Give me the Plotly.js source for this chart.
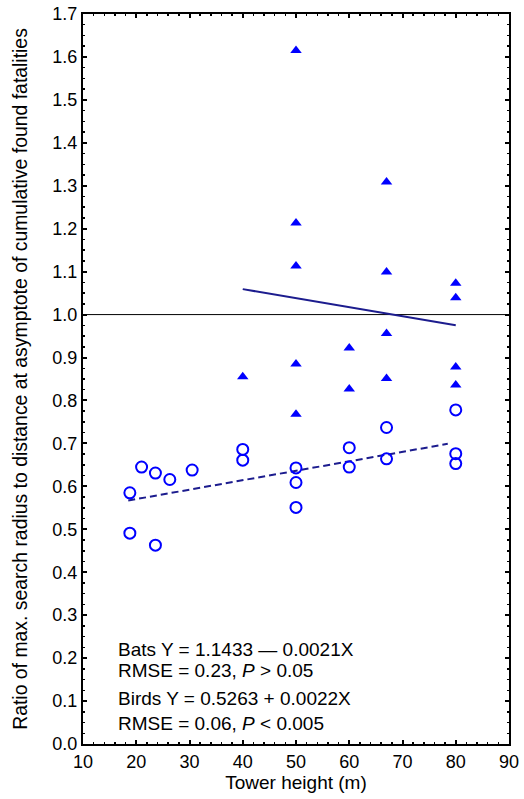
<!DOCTYPE html>
<html>
<head>
<meta charset="utf-8">
<script src="https://cdn.plot.ly/plotly-3.0.1.min.js"></script>
<style>html,body{margin:0;padding:0;background:#fff;}#chart{width:524px;height:799px;}</style>
</head>
<body>
<div id="chart"></div>
<script>
// Bats (filled triangles)
var batsX = [40, 50, 50, 50, 50, 50, 60, 60, 67, 67, 67, 67, 80, 80, 80, 80];
var batsY = [0.855, 1.615, 1.213, 1.113, 0.885, 0.768, 0.922, 0.827, 1.309, 1.099, 0.956, 0.851, 1.073, 1.039, 0.878, 0.836];

// Birds (open circles)
var birdsX = [18.8, 18.8, 21, 23.6, 23.6, 26.3, 30.5, 40, 40, 50, 50, 50, 60, 60, 67, 67, 80, 80, 80];
var birdsY = [0.585, 0.491, 0.645, 0.631, 0.463, 0.616, 0.638, 0.686, 0.661, 0.643, 0.609, 0.551, 0.690, 0.645, 0.737, 0.664, 0.778, 0.676, 0.653];

// Regression fits (from the printed equations)
var batsFitCoef = [1.1433, -0.0021];
var batsFitX = [40, 80];
var birdsFitCoef = [0.5263, 0.0022];
var birdsFitX = [18.5, 78.5];

var refLineY = 1.0;

var xTicks = [10, 20, 30, 40, 50, 60, 70, 80, 90];
var yTicks = [0.0, 0.1, 0.2, 0.3, 0.4, 0.5, 0.6, 0.7, 0.8, 0.9, 1.0, 1.1, 1.2, 1.3, 1.4, 1.5, 1.6, 1.7];

var noteLines = [
  'Bats Y = 1.1433 \u2014 0.0021X',
  'RMSE = 0.23, <i>P</i> > 0.05',
  'Birds Y = 0.5263 + 0.0022X',
  'RMSE = 0.06, <i>P</i> < 0.005'
];
var noteY = [0.221, 0.171, 0.105, 0.048];

function fit(coef, xs) { return xs.map(function (x) { return coef[0] + coef[1] * x; }); }

var FONT = 'Liberation Sans, Arial, sans-serif';
var navy = '#1c1c8e';

var traces = [
  {
    x: [xTicks[0], xTicks[xTicks.length - 1]], y: [refLineY, refLineY],
    mode: 'lines', line: {color: '#000', width: 1}, hoverinfo: 'skip', showlegend: false
  },
  {
    x: batsFitX, y: fit(batsFitCoef, batsFitX),
    mode: 'lines', line: {color: navy, width: 2}, showlegend: false
  },
  {
    x: birdsFitX, y: fit(birdsFitCoef, birdsFitX),
    mode: 'lines', line: {color: navy, width: 2, dash: '7px,4px'}, showlegend: false
  },
  {
    x: batsX, y: batsY, mode: 'markers',
    marker: {symbol: 'triangle-up', size: 10, color: '#0000ff'}, showlegend: false
  },
  {
    x: birdsX, y: birdsY, mode: 'markers',
    marker: {symbol: 'circle-open', size: 11, color: '#0000ff', line: {width: 2, color: '#0000ff'}}, showlegend: false
  }
];

var annotations = noteLines.map(function (t, i) {
  return {
    x: 16.2, y: noteY[i], xref: 'x', yref: 'y', xanchor: 'left', yanchor: 'middle',
    text: t, showarrow: false, font: {family: FONT, size: 19, color: '#000'}
  };
});

var layout = {
  width: 524, height: 799,
  margin: {l: 83, r: 15, t: 14, b: 55},
  paper_bgcolor: '#fff', plot_bgcolor: '#fff',
  font: {family: FONT, color: '#000'},
  showlegend: false,
  xaxis: {
    range: [10, 90], tickvals: xTicks, ticktext: xTicks.map(String),
    showgrid: false, zeroline: false,
    showline: true, linecolor: '#000', linewidth: 2, mirror: 'ticks',
    ticks: 'inside', ticklen: 4, tickwidth: 2, tickcolor: '#000',
    minor: {dtick: 2, ticks: 'inside', ticklen: 2, tickwidth: 1.5, tickcolor: '#000', showgrid: false},
    tickfont: {family: FONT, size: 18, color: '#000'},
    title: {text: 'Tower height (m)', font: {family: FONT, size: 19, color: '#000'}, standoff: 4}
  },
  yaxis: {
    range: [0, 1.7], tickvals: yTicks, ticktext: yTicks.map(function (v) { return v.toFixed(1); }),
    showgrid: false, zeroline: false,
    showline: true, linecolor: '#000', linewidth: 2, mirror: 'ticks',
    ticks: 'inside', ticklen: 4, tickwidth: 2, tickcolor: '#000',
    minor: {dtick: 0.025, ticks: 'inside', ticklen: 2, tickwidth: 1.5, tickcolor: '#000', showgrid: false},
    tickfont: {family: FONT, size: 18, color: '#000'},
    title: {text: 'Ratio of max. search radius to distance at asymptote of cumulative found fatalities', font: {family: FONT, size: 19.4, color: '#000'}, standoff: 20}
  },
  annotations: annotations
};

Plotly.newPlot('chart', traces, layout, {displayModeBar: false, staticPlot: true});
</script>
</body>
</html>
